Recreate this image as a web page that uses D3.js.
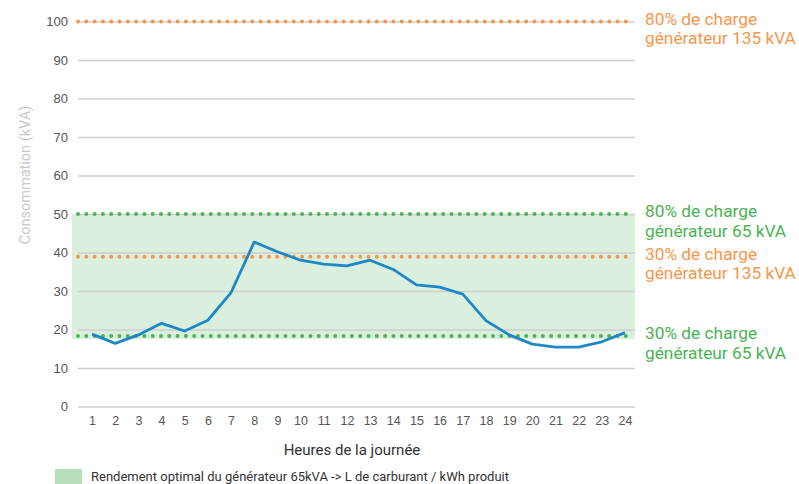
<!DOCTYPE html>
<html><head><meta charset="utf-8">
<script src="https://cdn.jsdelivr.net/npm/d3@7"></script>
<style>body{margin:0;background:#fff}svg{display:block;font-family:Roboto,"Noto Sans",sans-serif}</style>
</head><body><svg id="c" width="799" height="484"></svg>
<script>
const hours = [1,2,3,4,5,6,7,8,9,10,11,12,13,14,15,16,17,18,19,20,21,22,23,24];
const consumption = [18.8,16.4,18.6,21.6,19.6,22.4,29.6,42.7,40.2,38.0,37.0,36.5,38.0,35.6,31.6,31.0,29.2,22.3,18.6,16.2,15.4,15.4,16.8,19.2];
const yTicks = [0,10,20,30,40,50,60,70,80,90,100];
const band = [17.5, 50];
const refLines = [
  {value:100, color:"#f7964b", l1:"80% de charge", l2:"générateur 135 kVA"},
  {value:50, color:"#4bb453", l1:"80% de charge", l2:"générateur 65 kVA"},
  {value:38.9, color:"#f7964b", l1:"30% de charge", l2:"générateur 135 kVA"},
  {value:18.3, color:"#4bb453", l1:"30% de charge", l2:"générateur 65 kVA"}
];
const xTitle = "Heures de la journée";
const yTitle = "Consommation (kVA)";
const legendText = "Rendement optimal du générateur 65kVA -> L de carburant / kWh produit";

const svg = d3.select("#c");
const y = d3.scaleLinear().domain([0,100]).range([406.5,21.5]);
const x = d3.scaleLinear().domain([1,24]).range([92,625]);
const gx0 = 78, gx1 = 635;

// band
svg.append("rect").attr("x",72).attr("width",gx1-72)
  .attr("y",y(band[1])).attr("height",y(band[0])-y(band[1]))
  .attr("fill","#daefdd");

// gridlines
const yAxis = d3.axisLeft(y).tickValues(yTicks).tickSize(-(gx1-gx0)).tickPadding(10);
const ga = svg.append("g").attr("transform",`translate(${gx0},0)`).call(yAxis);
ga.select(".domain").remove();
ga.selectAll(".tick line").attr("stroke","#cfcfcf").attr("stroke-width",1.5);
ga.selectAll(".tick text").attr("fill","#555").style("font-size","13px").attr("x",-10);

// x axis labels
const xa = svg.append("g").attr("transform","translate(0,406.5)")
  .call(d3.axisBottom(x).tickValues(hours).tickFormat(d3.format("d")).tickSize(0).tickPadding(10));
xa.select(".domain").remove();
xa.selectAll(".tick text").attr("fill","#555").style("font-size","12.5px");

// reference dotted lines
refLines.forEach(r=>{
  svg.append("line").attr("x1",gx0).attr("x2",gx1-1).attr("y1",y(r.value)).attr("y2",y(r.value))
    .attr("stroke",r.color).attr("stroke-width",4).attr("stroke-linecap","round")
    .attr("stroke-dasharray","0 8.3");
});

// line
const line = d3.line().x((d,i)=>x(hours[i])).y(d=>y(d)).curve(d3.curveLinear);
svg.append("path").datum(consumption).attr("d",line).attr("fill","none")
  .attr("stroke","#1e88c7").attr("stroke-width",2.8).attr("stroke-linejoin","round");

// ref labels
refLines.forEach(r=>{
  const t = svg.append("text").attr("x",645).attr("y",y(r.value)+3).attr("fill",r.color)
    .style("font-size","17.3px");
  t.append("tspan").attr("x",645).attr("dy",0).text(r.l1);
  t.append("tspan").attr("x",645).attr("dy",19.5).text(r.l2);
});

// titles
svg.append("text").attr("x",352).attr("y",455).attr("text-anchor","middle")
  .attr("fill","#333").style("font-size","15px").text(xTitle);
svg.append("text").attr("transform","translate(30,175) rotate(-90)").attr("text-anchor","middle")
  .attr("fill","#c8c8c8").style("font-size","14.5px").text(yTitle);

// legend
svg.append("rect").attr("x",55).attr("y",469).attr("width",27).attr("height",15).attr("fill","#b7dcba");
svg.append("text").attr("x",91).attr("y",481).attr("fill","#333").style("font-size","13px").text(legendText);
</script></body></html>
